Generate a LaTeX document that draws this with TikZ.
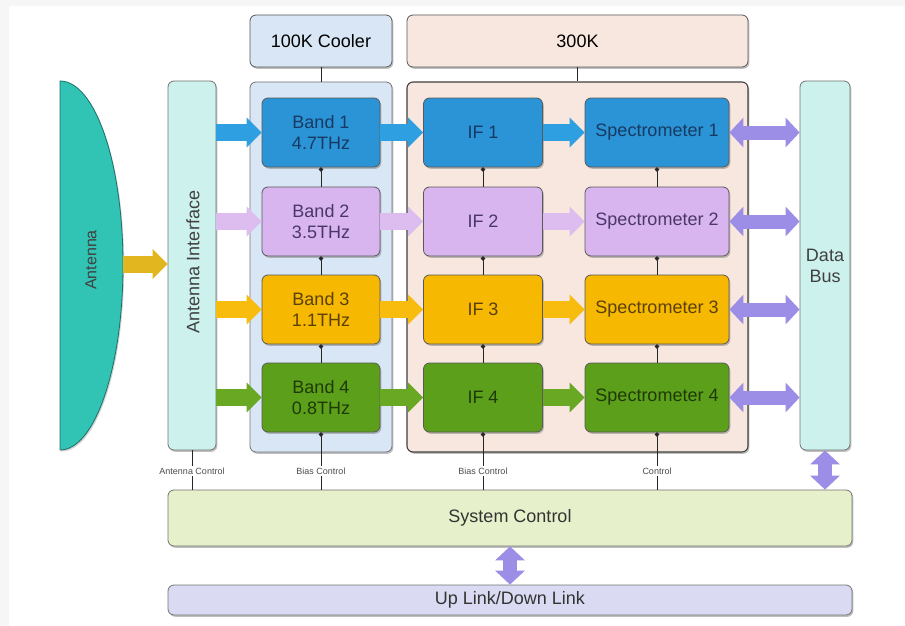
\documentclass[tikz,border=0pt]{standalone}
\usepackage{fontspec}
\setmainfont{Liberation Sans}
\usetikzlibrary{arrows.meta,shadows}

\definecolor{bandA}{HTML}{2B94D6}
\definecolor{bandAarr}{HTML}{2EA0E2}
\definecolor{bandB}{HTML}{D9B5EF}
\definecolor{bandBarr}{HTML}{DDBDEF}
\definecolor{bandC}{HTML}{F6B800}
\definecolor{bandCarr}{HTML}{F7BC0E}
\definecolor{bandD}{HTML}{5C9F1B}
\definecolor{bandDarr}{HTML}{68A823}
\definecolor{txtA}{HTML}{173A63}
\definecolor{txtB}{HTML}{4A3768}
\definecolor{txtC}{HTML}{5A400A}
\definecolor{txtD}{HTML}{1E3A06}
\definecolor{coolfill}{HTML}{D9E6F5}
\definecolor{warmfill}{HTML}{F8E7DE}
\definecolor{cyanfill}{HTML}{CDF2EE}
\definecolor{antfill}{HTML}{31C4B4}
\definecolor{antdraw}{HTML}{1D6F68}
\definecolor{sysfill}{HTML}{E6F1CB}
\definecolor{linkfill}{HTML}{DADBF2}
\definecolor{busarrow}{HTML}{9C8DE6}
\definecolor{antarrow}{HTML}{E2B61E}

\tikzset{
  rbox/.style={rounded corners=6pt, draw=black!65, line width=0.8pt,
    drop shadow={shadow xshift=1.3pt, shadow yshift=-1.8pt, opacity=0.5},
    font=\fontsize{18}{21}\selectfont, align=center, inner sep=0pt},
  band/.style={rbox, minimum width=118pt, minimum height=69pt},
  ifbox/.style={rbox, minimum width=119pt, minimum height=69pt},
  specbox/.style={rbox, minimum width=144pt, minimum height=69pt},
  flow/.style={line width=17pt, -{Triangle[length=15pt,width=29pt]}},
  busflow/.style={line width=14pt, busarrow,
    {Triangle[length=14pt,width=29pt]}-{Triangle[length=14pt,width=29pt]}},
  ctl/.style={line width=0.8pt, black!85, -{Circle[length=4.2pt]}},
  ctlplain/.style={line width=0.8pt, black!85},
  lbl/.style={font=\fontsize{9}{10}\selectfont, text=black!70, inner sep=1.5pt}
}

\begin{document}
\begin{tikzpicture}[x=1pt,y=-1pt]
\useasboundingbox (0,0) rectangle (905,626);
% page frame
\fill[gray!7] (0,0) rectangle (905,626);
\fill[white] (9,6) rectangle (905,626);

% temperature stages
\node[rbox, fill=coolfill, minimum width=142pt, minimum height=52pt] (cool) at (321,41) {100K Cooler};
\node[rbox, fill=warmfill, minimum width=341pt, minimum height=52pt] (warm) at (577.5,41) {300K};
\node[rbox, fill=coolfill, draw=black!55, minimum width=142pt, minimum height=370pt] (coolreg) at (321,267) {};
\node[rbox, fill=warmfill, draw=black!75, line width=1.1pt, minimum width=341pt, minimum height=370pt] (warmreg) at (577.5,267) {};
\draw[ctlplain] (cool.south) -- (coolreg.north);
\draw[ctlplain] (warm.south) -- (warmreg.north);

% antenna dish
\filldraw[fill=antfill, draw=antdraw, line width=0.8pt,
  drop shadow={shadow xshift=1.2pt, shadow yshift=-1.6pt, opacity=0.35}]
  (60,81) .. controls (95,81) and (123,163) .. (123,265)
          .. controls (123,367) and (95,450) .. (60,450) -- cycle;
\coordinate (antpeak) at (123,264);
\node[rotate=90, font=\fontsize{16}{18}\selectfont, text=black!75] (antlbl) at (91,260) {Antenna};

% antenna interface and data bus
\node[rbox, fill=cyanfill, draw=black!55, minimum width=48pt, minimum height=369pt] (iface) at (192,265.5) {};
\node[rotate=90, font=\fontsize{18}{20}\selectfont, text=black!75] (ifacelbl) at (193,262) {Antenna Interface};
\node[rbox, fill=cyanfill, draw=black!55, minimum width=50pt, minimum height=369pt, text=black!75] (bus) at (825,265.5) {Data\\Bus};

% receiver chains
\node[band, fill=bandA, text=txtA] (b1) at (321,132.5) {Band 1\\4.7THz};
\node[band, fill=bandB, text=txtB] (b2) at (321,221.5) {Band 2\\3.5THz};
\node[band, fill=bandC, text=txtC] (b3) at (321,309.5) {Band 3\\1.1THz};
\node[band, fill=bandD, text=txtD] (b4) at (321,397.5) {Band 4\\0.8THz};

\node[ifbox, fill=bandA, text=txtA] (i1) at (483,132.5) {IF 1};
\node[ifbox, fill=bandB, text=txtB] (i2) at (483,221.5) {IF 2};
\node[ifbox, fill=bandC, text=txtC] (i3) at (483,309.5) {IF 3};
\node[ifbox, fill=bandD, text=txtD] (i4) at (483,397.5) {IF 4};

\node[specbox, fill=bandA, text=txtA] (s1) at (657,132.5) {Spectrometer 1};
\node[specbox, fill=bandB, text=txtB] (s2) at (657,221.5) {Spectrometer 2};
\node[specbox, fill=bandC, text=txtC] (s3) at (657,309.5) {Spectrometer 3};
\node[specbox, fill=bandD, text=txtD] (s4) at (657,397.5) {Spectrometer 4};

% signal flow
\draw[flow, antarrow] (antpeak) -- (iface.west |- antpeak);
\foreach \r/\c in {1/bandAarr, 2/bandBarr, 3/bandCarr, 4/bandDarr}{
  \draw[flow, \c] (iface.east |- b\r.west) -- (b\r.west);
  \draw[flow, \c] (b\r.east) -- (i\r.west);
  \draw[flow, \c] (i\r.east) -- (s\r.west);
  \draw[busflow] (s\r.east) -- (bus.west |- s\r.east);
}

% control lines between stages
\foreach \u/\l in {1/2, 2/3, 3/4}{
  \draw[ctl] (b\l.north) -- (b\u.south);
  \draw[ctl] (i\l.north) -- (i\u.south);
  \draw[ctl] (s\l.north) -- (s\u.south);
}

% system control and link
\node[rbox, fill=sysfill, draw=black!55, minimum width=684pt, minimum height=56pt, text=black!80] (sys) at (510,518) {System Control};
\node[rbox, fill=linkfill, draw=black!55, minimum width=684pt, minimum height=30pt, text=black!80] (link) at (510,600) {Up Link/Down Link};

\node[lbl] (cA) at (iface.south |- 0,471) {Antenna Control};
\node[lbl] (cB) at (b4.south |- 0,471) {Bias Control};
\node[lbl] (cC) at (i4.south |- 0,471) {Bias Control};
\node[lbl] (cD) at (s4.south |- 0,471) {Control};

\draw[ctlplain] (iface.south) -- (cA.north);
\draw[ctl] (cB.north) -- (b4.south);
\draw[ctl] (cC.north) -- (i4.south);
\draw[ctl] (cD.north) -- (s4.south);
\foreach \n in {cA,cB,cC,cD}
  \draw[ctlplain] (\n.south) -- (\n.south |- sys.north);

\draw[busflow] (bus.south) -- (bus.south |- sys.north);
\draw[busflow] (sys.south) -- (link.north);
\end{tikzpicture}
\end{document}
